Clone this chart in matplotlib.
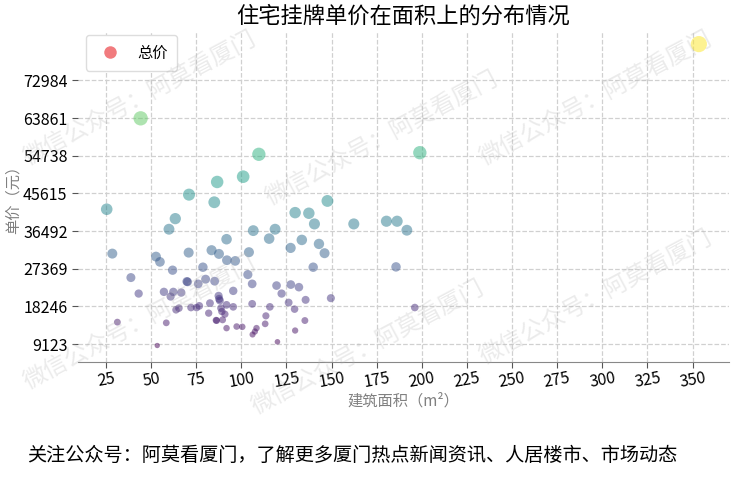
import numpy as np
import matplotlib
matplotlib.use('Agg')
from matplotlib import pyplot as plt
from matplotlib.lines import Line2D

plt.rcParams['font.family'] = ['Noto Sans CJK SC', 'DejaVu Sans']
plt.rcParams['axes.unicode_minus'] = False

# 数据：建筑面积(m²) 与 单价(元)
area = [353.5, 44.2, 198.9, 109.7, 101.0, 86.6, 71.0, 85.0, 25.4, 147.7,
        129.8, 137.4, 140.5, 162.3, 180.4, 186.3, 191.7, 63.4, 59.9, 106.6,
        118.7, 91.8, 115.4, 133.5, 143.0, 127.3, 146.1, 28.5, 70.8, 83.5,
        87.6, 104.2, 92.0, 96.6, 52.7, 54.9, 139.8, 185.7, 61.9, 78.7,
        103.6, 38.8, 80.2, 85.2, 70.2, 69.8, 76.1, 106.0, 127.4, 131.9,
        119.5, 95.5, 57.1, 62.3, 66.7, 43.1, 60.8, 122.3, 87.4, 87.7,
        135.6, 149.6, 88.1, 82.6, 126.2, 106.0, 91.8, 95.5, 115.8, 72.1,
        76.7, 75.2, 88.7, 65.4, 63.8, 129.5, 89.2, 81.9, 90.9, 113.6,
        89.6, 86.3, 86.0, 135.2, 113.2, 58.4, 31.3, 91.8, 97.4, 100.5,
        108.4, 107.5, 106.2, 129.8, 120.0, 53.4, 196.1]
price = [81796, 63815, 55490, 55103, 49682, 48400, 45330, 43487, 41793, 43803,
         40970, 40825, 38236, 38236, 38889, 38889, 36711, 39518, 36953, 36614,
         36953, 34533, 34678, 34364, 33396, 32427, 31145, 31048, 31290, 31871,
         30976, 31387, 29451, 29281, 30322, 29039, 27757, 27830, 27031, 27757,
         25966, 25240, 24853, 24369, 24200, 24300, 23716, 23716, 23547, 22917,
         23304, 22022, 21780, 21780, 21610, 21368, 20642, 21368, 20811, 20085,
         19844, 20255, 19674, 19045, 19190, 18875, 18633, 18149, 18149, 17981,
         18391, 17981, 17836, 17836, 17424, 17593, 17012, 16625, 16383, 15972,
         15004, 14834, 14900, 14834, 14036, 14278, 14447, 12995, 13382, 13310,
         12995, 12172, 11446, 12414, 9680, 8784, 17981]

yticks = [9123, 18246, 27369, 36492, 45615, 54738, 63861, 72984]
xticks = [25, 50, 75, 100, 125, 150, 175, 200, 225, 250, 275, 300, 325, 350]

area = np.array(area)
price = np.array(price)

fig = plt.figure(figsize=(7.36, 4.98), dpi=100)
ax = fig.add_axes([0.106, 0.274, 0.884, 0.664])

ax.scatter(area, price, s=price / 600, c=price, cmap='viridis', alpha=0.5,
           edgecolors='none', zorder=3)

ax.set_xlim(9.5, 370)
ax.set_ylim(4900, 85000)
ax.set_xticks(xticks)
ax.set_yticks(yticks)
ax.set_xticklabels([str(v) for v in xticks], rotation=10, fontsize=11.5)
ax.set_yticklabels([str(v) for v in yticks], fontsize=11.5)
ax.tick_params(axis='both', colors='#555555', labelcolor='black', length=4)
ax.tick_params(axis='x', pad=2)

ax.grid(True, linestyle='--', color='#d0d0d0', linewidth=0.9)
for s in ['top', 'right', 'left']:
    ax.spines[s].set_visible(False)
ax.spines['bottom'].set_color('#888888')

ax.set_xlabel('建筑面积（m²）', color='#808080', fontsize=11, labelpad=1)
ax.set_ylabel('单价（元）', color='#808080', fontsize=11, labelpad=1)
ax.set_title('住宅挂牌单价在面积上的分布情况', fontsize=16, pad=6)

# 图例
handle = Line2D([], [], marker='o', linestyle='none', markersize=9,
                markerfacecolor='#ee5a5e', markeredgecolor='none', alpha=0.8)
ax.legend([handle], ['总价'], loc='upper left', bbox_to_anchor=(0.0, 1.01),
          fontsize=11, handletextpad=0.8, borderpad=0.6, framealpha=1,
          edgecolor='#dddddd')

# 底部说明
fig.text(0.037, 0.085, '关注公众号：阿莫看厦门，了解更多厦门热点新闻资讯、人居楼市、市场动态',
         fontsize=13.8, va='center', ha='left')

# 水印
wm = '微信公众号：阿莫看厦门'
wm_pos = [(0.19, 0.80), (0.52, 0.72), (0.81, 0.80),
          (0.19, 0.35), (0.50, 0.30), (0.81, 0.40)]
for xx, yy in wm_pos:
    fig.text(xx, yy, wm, fontsize=17, color='#b0b0b0', alpha=0.25,
             rotation=28, ha='center', va='center', zorder=10)

fig.savefig('out.png', dpi=100)
